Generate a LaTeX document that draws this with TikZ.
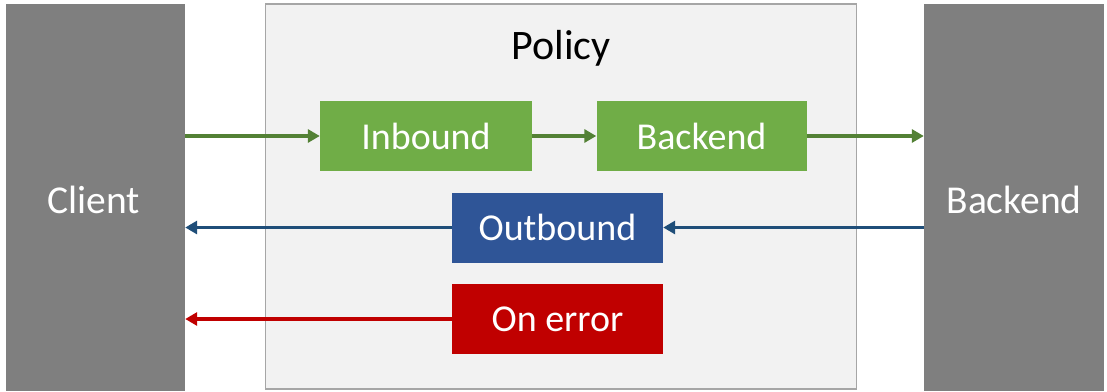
\documentclass[tikz,border=0pt]{standalone}
\usepackage{fontspec}
\setmainfont{Carlito}
\usetikzlibrary{arrows.meta}
\definecolor{sidegray}{HTML}{7F7F7F}
\definecolor{policyfill}{HTML}{F2F2F2}
\definecolor{policyedge}{HTML}{A6A6A6}
\definecolor{boxgreen}{HTML}{70AD47}
\definecolor{arrowgreen}{HTML}{538135}
\definecolor{boxblue}{HTML}{2F5597}
\definecolor{arrowblue}{HTML}{1F4E79}
\definecolor{boxred}{HTML}{C00000}
\tikzset{
  endpoint/.style={fill=sidegray, draw=none, inner sep=0pt},
  sidelabel/.style={text=white, font=\fontsize{39.5}{44}\selectfont},
  stagebox/.style={draw=none, inner sep=0pt, minimum height=70pt, text=white, font=\fontsize{38}{44}\selectfont},
  flow/.style={line width=3.5pt, -{Triangle[length=12pt,width=13pt]}},
}
\begin{document}
\begin{tikzpicture}[x=1pt,y=-1pt]
  \useasboundingbox (0,0) rectangle (1107,391);
  % client and backend service columns
  \node[endpoint, minimum width=179pt, minimum height=387pt] (client) at (95.5,197.5) {};
  \node[sidelabel] (clientlbl) at (94,200) {Client};
  \node[endpoint, minimum width=180pt, minimum height=387pt] (backend) at (1014,197.5) {};
  \node[sidelabel] (backendlbl) at (1014,200) {Backend};
  % policy frame
  \node[fill=policyfill, draw=policyedge, line width=1.5pt, minimum width=591pt, minimum height=385pt, inner sep=0pt] (policy) at (561,196.5) {};
  \node[font=\fontsize{42}{48}\selectfont] (policylbl) at (561,48) {Policy};
  % policy stages
  \node[stagebox, fill=boxgreen, minimum width=212pt] (inbound) at (426,136) {Inbound};
  \node[stagebox, fill=boxgreen, minimum width=210pt] (sendback) at (701.5,136) {Backend};
  \node[stagebox, fill=boxblue, minimum width=211pt] (outbound) at (557.5,227.5) {Outbound};
  \node[stagebox, fill=boxred, minimum width=211pt] (onerror) at (557.5,319) {On error};
  % request path
  \draw[flow, arrowgreen] (client.east |- inbound) -- (inbound.west);
  \draw[flow, arrowgreen] (inbound.east) -- (sendback.west);
  \draw[flow, arrowgreen] (sendback.east) -- (backend.west |- sendback);
  % response path
  \draw[flow, arrowblue] (backend.west |- outbound) -- (outbound.east);
  \draw[flow, arrowblue] (outbound.west) -- (client.east |- outbound);
  % error path
  \draw[flow, boxred] (onerror.west) -- (client.east |- onerror);
\end{tikzpicture}
\end{document}
